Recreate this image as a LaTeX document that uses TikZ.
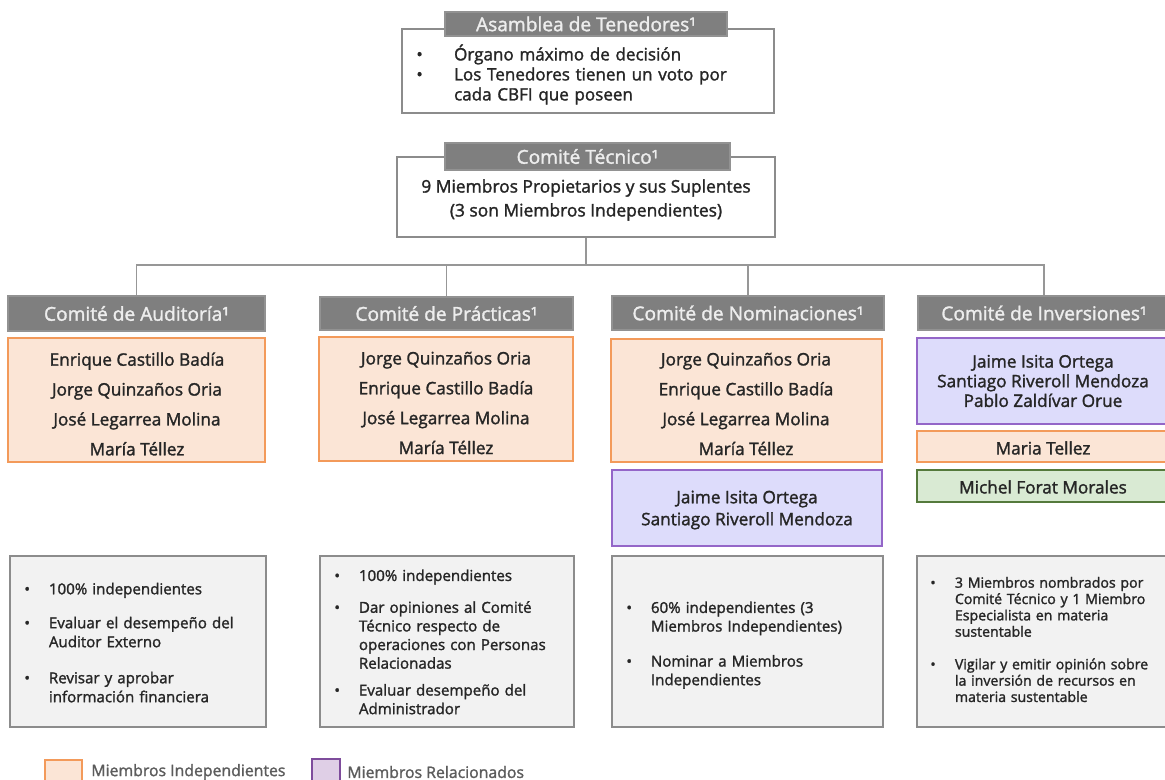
\documentclass[tikz,border=0pt]{standalone}
\usepackage{fontspec}
\setmainfont{Open Sans}[FakeBold=1.6]
\usetikzlibrary{fit,positioning}
\definecolor{hdrgray}{HTML}{7F7F7F}
\definecolor{hdrtext}{HTML}{EDEDED}
\definecolor{indfill}{HTML}{FBE5D6}
\definecolor{inddraw}{HTML}{F39A5A}
\definecolor{relfill}{HTML}{DDDCFB}
\definecolor{reldraw}{HTML}{9466C8}
\definecolor{legrel}{HTML}{DFCFE6}
\definecolor{legreldraw}{HTML}{7E4C9C}
\definecolor{espfill}{HTML}{D9EAD3}
\definecolor{espdraw}{HTML}{557A3C}
\definecolor{notefill}{HTML}{F2F2F2}
\definecolor{notedraw}{HTML}{8C8C8C}
\definecolor{txt}{HTML}{262626}
\newlength{\bulind}
\newcommand{\itm}[1]{\par\noindent\makebox[\bulind][l]{\textbullet}\parbox[t]{\dimexpr\linewidth-\bulind\relax}{#1}}
\tikzset{
  hdr/.style={fill=hdrgray, draw=hdrgray!85, line width=1pt, inner sep=0pt},
  hdrtxt/.style={text=hdrtext, inner sep=0pt, font=\fontsize{10.9}{12}\selectfont},
  plain/.style={draw=notedraw, line width=1.1pt, fill=white, inner sep=0pt},
  indep/.style={draw=inddraw, fill=indfill, line width=1.1pt, inner sep=0pt},
  rel/.style={draw=reldraw, fill=relfill, line width=1.1pt, inner sep=0pt},
  esp/.style={draw=espdraw, fill=espfill, line width=1.1pt, inner sep=0pt},
  note/.style={draw=notedraw, fill=notefill, line width=1.4pt, inner sep=0pt},
  names/.style={align=center, text=txt, font=\fontsize{9.8}{17}\selectfont, inner sep=0pt},
  bullets/.style={anchor=north west, align=left, text=txt, inner sep=0pt},
  legtxt/.style={anchor=west, text=txt!75, font=\fontsize{9}{10}\selectfont, inner sep=0pt},
  conn/.style={draw=notedraw!90, line width=1.1pt}
}
\begin{document}
\begin{tikzpicture}[x=0.02cm, y=-0.02cm]
  \useasboundingbox (0,0) rectangle (1165,780);

  % asamblea
  \node[plain, fit={(402,29) (774,113)}] (asm) {};
  \node[hdr, fit={(445,12) (727,36)}] (asmh) {};
  \node[hdrtxt] at (asmh) {Asamblea de Tenedores¹};
  \node[bullets, font=\fontsize{9.7}{11.4}\selectfont, text width=7cm] (asmt) at (416,40)
    {\setlength{\bulind}{21.5pt}\itm{Órgano máximo de decisión}\itm{Los Tenedores tienen un voto por\\cada CBFI que poseen}};

  % comite tecnico
  \node[plain, fit={(397,157) (775,237)}] (tec) {};
  \node[hdr, fit={(445,143) (730,170)}] (tech) {};
  \node[hdrtxt] at (tech) {Comité Técnico¹};
  \node[names, font=\fontsize{9.9}{13.6}\selectfont] (tect) at (586,200)
    {9 Miembros Propietarios y sus Suplentes\\(3 son Miembros Independientes)};

  % comites
  \node[hdr, fit={(8,296) (265,331)}] (audh) {};
  \node[hdrtxt] at (audh) {Comité de Auditoría¹};
  \node[hdr, fit={(320,297) (573,330)}] (prah) {};
  \node[hdrtxt] at (prah) {Comité de Prácticas¹};
  \node[hdr, fit={(612,296) (884,330)}] (nomh) {};
  \node[hdrtxt] at (nomh) {Comité de Nominaciones¹};
  \node[hdr, fit={(918,296) (1170,330)}] (invh) {};
  \node[hdrtxt] at (invh) {Comité de Inversiones¹};

  \coordinate (bus) at (586,265);
  \draw[conn] (tec.south) -- (bus);
  \foreach \n in {audh,prah,nomh,invh}
    \draw[conn] (bus) -| (\n.north);

  % miembros
  \node[indep, fit={(8,338) (265,462)}] (audm) {};
  \node[names] at (137,404) {Enrique Castillo Badía\\Jorge Quinzaños Oria\\José Legarrea Molina\\María Téllez};
  \node[indep, fit={(319,337) (573,461)}] (pram) {};
  \node[names] at (446,403) {Jorge Quinzaños Oria\\Enrique Castillo Badía\\José Legarrea Molina\\María Téllez};
  \node[indep, fit={(611,339) (882,462)}] (nomm) {};
  \node[names] at (746,404) {Jorge Quinzaños Oria\\Enrique Castillo Badía\\José Legarrea Molina\\María Téllez};
  \node[rel, fit={(612,470) (882,546)}] (nomr) {};
  \node[names, font=\fontsize{9.8}{12.5}\selectfont] at (747,510) {Jaime Isita Ortega\\Santiago Riveroll Mendoza};
  \node[rel, fit={(917,338) (1170,424)}] (invr) {};
  \node[names, font=\fontsize{9.8}{11.2}\selectfont] at (1043,381) {Jaime Isita Ortega\\Santiago Riveroll Mendoza\\Pablo Zaldívar Orue};
  \node[indep, fit={(917,431) (1170,462)}] (invm) {};
  \node[names] at (1043,448) {Maria Tellez};
  \node[esp, fit={(917,470) (1170,502)}] (inve) {};
  \node[names] at (1043,487) {Michel Forat Morales};

  % funciones
  \node[note, fit={(10,556) (266,727)}] (audn) {};
  \node[bullets, font=\fontsize{8.6}{10.8}\selectfont, text width=4.8cm] at (24,575)
    {\setlength{\bulind}{14pt}\itm{100\% independientes}\par\vspace{8.5pt}\itm{Evaluar el desempeño del\\Auditor Externo}\par\vspace{12.9pt}\itm{Revisar y aprobar\\información financiera}};
  \node[note, fit={(320,556) (574,727)}] (pran) {};
  \node[bullets, font=\fontsize{8.6}{10.6}\selectfont, text width=4.8cm] at (334,562)
    {\setlength{\bulind}{14pt}\itm{100\% independientes}\par\vspace{7.5pt}\itm{Dar opiniones al Comité\\Técnico respecto de\\operaciones con Personas\\Relacionadas}\par\vspace{7.7pt}\itm{Evaluar desempeño del\\Administrador}};
  \node[note, fit={(612,556) (883,727)}] (nomn) {};
  \node[bullets, font=\fontsize{8.6}{10.6}\selectfont, text width=5cm] at (626,594)
    {\setlength{\bulind}{14pt}\itm{60\% independientes (3\\Miembros Independientes)}\par\vspace{10.3pt}\itm{Nominar a Miembros\\Independientes}};
  \node[note, fit={(917,556) (1170,727)}] (invn) {};
  \node[bullets, font=\fontsize{8.05}{9.3}\selectfont, text width=4.8cm] at (930,571)
    {\setlength{\bulind}{14pt}\itm{3 Miembros nombrados por\\Comité Técnico y 1 Miembro\\Especialista en materia\\sustentable}\par\vspace{11.3pt}\itm{Vigilar y emitir opinión sobre\\la inversión de recursos en\\materia sustentable}};

  % leyenda
  \node[indep, fit={(45,760) (82,785)}] (legi) {};
  \node[legtxt] (legit) at (91,772) {Miembros Independientes};
  \node[draw=legreldraw, fill=legrel, line width=1.1pt, inner sep=0pt, fit={(312,759) (340,785)}] (legr) {};
  \node[legtxt] (legrt) at (347,772) {Miembros Relacionados};
\end{tikzpicture}
\end{document}
